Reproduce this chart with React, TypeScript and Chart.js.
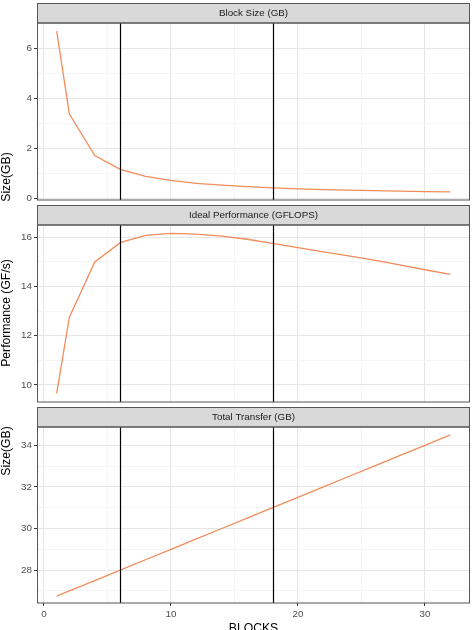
import React, { useEffect, useRef } from "react";
import { Chart, registerables } from "chart.js";

Chart.register(...registerables);

// Number of blocks the data set is split into
const blocks = [1, 2, 4, 6, 8, 10, 12, 14, 16, 18, 20, 22, 24, 26, 28, 30, 32];

// Size of a single block (GB)
const blockSize = [6.68, 3.37, 1.72, 1.17, 0.89, 0.73, 0.61, 0.54, 0.48, 0.43, 0.39, 0.36, 0.34, 0.32, 0.3, 0.28, 0.27];

// Ideal performance (GFLOPS)
const idealPerf = [9.65, 12.75, 15.0, 15.78, 16.08, 16.16, 16.13, 16.05, 15.92, 15.75, 15.58, 15.41, 15.24, 15.07, 14.88, 14.68, 14.49];

// Total amount transferred (GB)
const totalTransfer = [26.75, 27.0, 27.5, 28.0, 28.5, 29.0, 29.5, 30.0, 30.5, 31.0, 31.5, 32.0, 32.5, 33.0, 33.5, 34.0, 34.5];

// Reference block counts marked with vertical rules
const markers = [6, 18];

// x axis
const xRange = [-0.55, 33.55];
const xTickStep = 5;
const xLabelStep = 10;

type Panel = {
  strip: string;
  yTitle: string;
  yTitleCenter: number;
  values: number[];
  yRange: [number, number];
  yLabelStep: number;
  top: number;
  height: number;
  bottomAxis: boolean;
};

const panels: Panel[] = [
  { strip: "Block Size (GB)", yTitle: "Size(GB)", yTitleCenter: 177, values: blockSize, yRange: [-0.05, 7.0], yLabelStep: 2, top: 0, height: 202, bottomAxis: false },
  { strip: "Ideal Performance (GFLOPS)", yTitle: "Performance (GF/s)", yTitleCenter: 111, values: idealPerf, yRange: [9.3, 16.5], yLabelStep: 2, top: 202, height: 202, bottomAxis: false },
  { strip: "Total Transfer (GB)", yTitle: "Size(GB)", yTitleCenter: 47, values: totalTransfer, yRange: [26.42, 34.88], yLabelStep: 2, top: 404, height: 226, bottomAxis: true },
];

const FONT = "'Liberation Sans', Arial, Helvetica, sans-serif";
const LINE = "#F28C5A";
const FRAME = "#555555";
const MAJOR = "#E6E6E6";
const MINOR = "#F2F2F2";
const PLOT_TOP = 23;
const STRIP_TOP = 3.5;

const isMultiple = (v: number, step: number) => Math.abs(v / step - Math.round(v / step)) < 1e-6;

function PanelChart({ panel }: { panel: Panel }) {
  const ref = useRef<HTMLCanvasElement | null>(null);

  useEffect(() => {
    if (!ref.current) return;

    const decor = {
      id: "facetDecor",
      afterDatasetsDraw(chart: any) {
        const { ctx, chartArea } = chart;
        const xs = chart.scales.x;
        ctx.save();
        ctx.strokeStyle = "#000000";
        ctx.lineWidth = 1.2;
        for (const m of markers) {
          const px = Math.round(xs.getPixelForValue(m)) + 0.5;
          ctx.beginPath();
          ctx.moveTo(px, chartArea.top);
          ctx.lineTo(px, chartArea.bottom);
          ctx.stroke();
        }
        ctx.restore();
      },
      afterDraw(chart: any) {
        const { ctx, chartArea } = chart;
        const l = chartArea.left;
        const r = chartArea.right;
        ctx.save();
        // strip header
        ctx.fillStyle = "#D9D9D9";
        ctx.fillRect(l, STRIP_TOP, r - l, chartArea.top - STRIP_TOP);
        ctx.strokeStyle = FRAME;
        ctx.lineWidth = 1;
        ctx.strokeRect(l + 0.5, STRIP_TOP, r - l - 1, chartArea.top - STRIP_TOP);
        ctx.fillStyle = "#1A1A1A";
        ctx.font = `9.8px ${FONT}`;
        ctx.textAlign = "center";
        ctx.textBaseline = "middle";
        ctx.fillText(panel.strip, (l + r) / 2, (STRIP_TOP + chartArea.top) / 2 + 0.5);
        // panel border
        ctx.strokeRect(l + 0.5, chartArea.top, r - l - 1, chartArea.bottom - chartArea.top);
        // y title
        ctx.fillStyle = "#000000";
        ctx.font = `12.2px ${FONT}`;
        ctx.translate(7, panel.yTitleCenter);
        ctx.rotate(-Math.PI / 2);
        ctx.fillText(panel.yTitle, 0, 0);
        ctx.restore();
        if (panel.bottomAxis) {
          ctx.save();
          ctx.fillStyle = "#000000";
          ctx.font = `12.2px ${FONT}`;
          ctx.textAlign = "center";
          ctx.textBaseline = "top";
          ctx.fillText("BLOCKS", (l + r) / 2, 219);
          ctx.restore();
        }
      },
    };

    const chart = new Chart(ref.current, {
      type: "line",
      data: {
        datasets: [
          {
            data: blocks.map((b, i) => ({ x: b, y: panel.values[i] })),
            borderColor: LINE,
            borderWidth: 1.3,
            pointRadius: 0,
            tension: 0,
            fill: false,
          },
        ],
      },
      options: {
        animation: false,
        responsive: false,
        devicePixelRatio: 1,
        layout: { padding: { top: PLOT_TOP, right: 6, left: 0, bottom: 0 } },
        plugins: { legend: { display: false }, tooltip: { enabled: false } },
        scales: {
          x: {
            type: "linear",
            min: xRange[0],
            max: xRange[1],
            border: { display: false },
            grid: {
              color: (c: any) => (isMultiple(c.tick.value, xLabelStep) ? MAJOR : MINOR),
              lineWidth: (c: any) => (isMultiple(c.tick.value, xLabelStep) ? 1 : 0.8),
              drawTicks: panel.bottomAxis,
              tickLength: 3,
              tickColor: (c: any) => (isMultiple(c.tick.value, xLabelStep) ? "#333333" : "rgba(0,0,0,0)"),
            },
            ticks: {
              display: panel.bottomAxis,
              stepSize: xTickStep,
              includeBounds: false,
              autoSkip: false,
              maxRotation: 0,
              padding: 2,
              color: "#4D4D4D",
              font: { family: FONT, size: 9.8 },
              callback: (v: any) => (isMultiple(Number(v), xLabelStep) ? String(v) : ""),
            },
            afterFit: (s: any) => {
              s.height = panel.bottomAxis ? 27 : 2;
              s.paddingLeft = 0;
              s.paddingRight = 0;
              s.paddingTop = 0;
              s.paddingBottom = 0;
            },
          },
          y: {
            type: "linear",
            min: panel.yRange[0],
            max: panel.yRange[1],
            border: { display: false },
            grid: {
              color: (c: any) => (isMultiple(c.tick.value, panel.yLabelStep) ? MAJOR : MINOR),
              lineWidth: (c: any) => (isMultiple(c.tick.value, panel.yLabelStep) ? 1 : 0.8),
              tickLength: 3,
              tickColor: (c: any) => (isMultiple(c.tick.value, panel.yLabelStep) ? "#333333" : "rgba(0,0,0,0)"),
            },
            ticks: {
              stepSize: 1,
              includeBounds: false,
              autoSkip: false,
              padding: 2,
              color: "#4D4D4D",
              font: { family: FONT, size: 9.8 },
              callback: (v: any) => (isMultiple(Number(v), panel.yLabelStep) ? String(v) : ""),
            },
            afterFit: (s: any) => {
              s.width = 37;
              s.paddingTop = 0;
              s.paddingBottom = 0;
              s.paddingLeft = 0;
              s.paddingRight = 0;
            },
          },
        },
      },
      plugins: [decor],
    } as any);

    return () => chart.destroy();
  }, [panel]);

  return (
    <canvas
      ref={ref}
      width={476}
      height={panel.height}
      style={{ position: "absolute", left: 0, top: panel.top, width: 476, height: panel.height, display: "block" }}
    />
  );
}

export default function App() {
  return (
    <div style={{ position: "absolute", left: 0, top: 0, width: 476, height: 630, background: "#ffffff", overflow: "hidden" }}>
      {panels.map((p) => (
        <PanelChart key={p.strip} panel={p} />
      ))}
    </div>
  );
}
